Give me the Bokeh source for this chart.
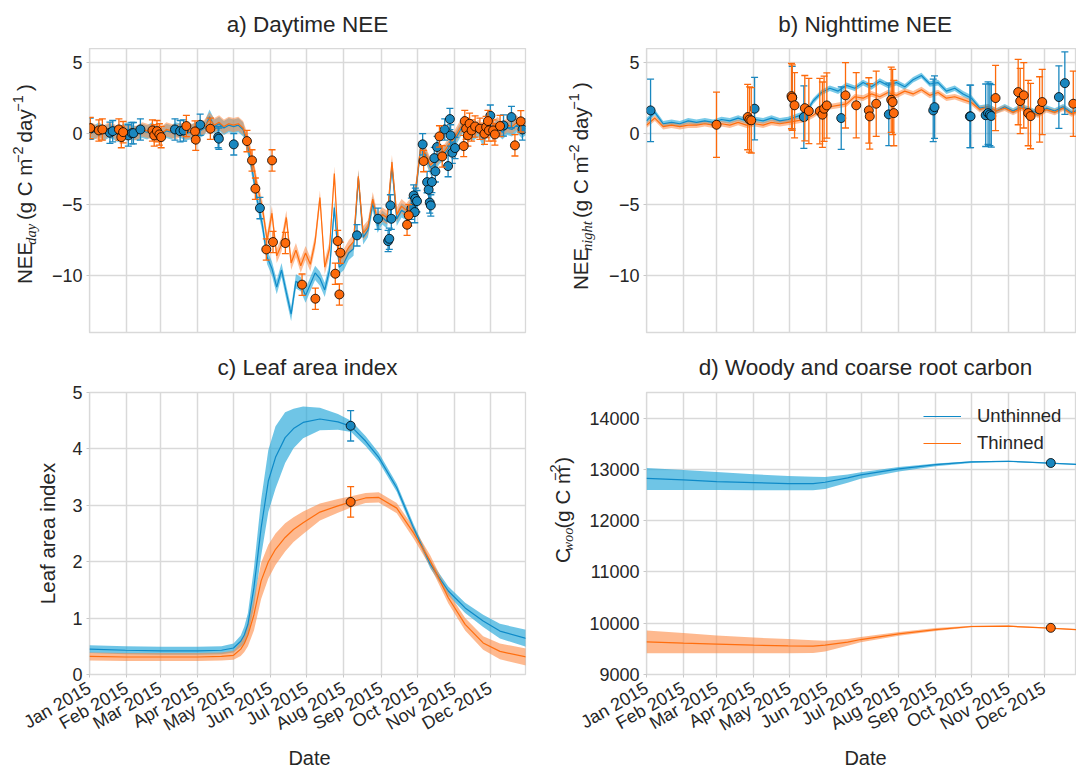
import math
import numpy as np
import pandas as pd
from bokeh.plotting import figure
from bokeh.layouts import column, row
from bokeh.models import (Range1d, FixedTicker, DatetimeTickFormatter,
                          Legend, LegendItem)
from bokeh.core.properties import value
from bokeh.embed import file_html
from bokeh.resources import INLINE

# ---------------------------------------------------------------- data
YEAR_START = "2015-01-01"
month_starts = ["2015-01-01", "2015-02-01", "2015-03-01", "2015-04-01",
                "2015-05-01", "2015-06-01", "2015-07-01", "2015-08-01",
                "2015-09-01", "2015-10-01", "2015-11-01", "2015-12-01"]

# a) daytime NEE, model (day of year, g C m-2 day-1)
nee_day_model_days = list(range(0, 365, 4))
nee_day_unthinned = [
    0.2, 0.1, 0.3, 0.0, 0.2, 0.1, -0.1, 0.2, 0.3, 0.1, 0.0, 0.2, 0.1, 0.3, 0.0,
    -0.1, 0.2, 0.1, 0.3, 0.2, 0.0, 0.1, 0.3, 0.2, 0.4,
    1.2, 0.5, 0.7, 0.4, 0.6, 0.5, 0.6, 0.3, -1.0,
    -2.8, -4.8, -6.4, -8.7, -9.5, -10.8, -9.6, -11.2, -12.7,
    -10.4, -10.6, -11.4, -10.6, -9.8, -10.2, -11.0, -9.6, -5.2, -9.4, -9.1,
    -8.4, -8.1, -3.1, -7.3, -6.8, -4.9, -6.5, -5.9, -6.2, -2.3, -6.0, -5.4, -5.6,
    -5.2, -4.0,
    -0.9, -1.5, -2.4, -2.1, -1.6, -1.4, -0.9, -0.5, 0.1, 0.7, 0.2, 0.0, 0.3,
    -0.4, 0.4, 0.2, 0.5, 0.1, 0.4, 0.3, 0.6, 0.2, 0.4]
nee_day_thinned = [
    0.3, 0.2, 0.0, 0.1, 0.3, 0.2, 0.0, 0.1, 0.2, 0.0, 0.1, 0.3, 0.2, 0.1, -0.1,
    0.0, 0.3, 0.2, 0.1, 0.3, 0.1, 0.2, 0.2, 0.3, 0.5,
    1.0, 0.6, 0.8, 0.5, 0.7, 0.6, 0.7, 0.4, -0.6,
    -2.0, -3.8, -5.2, -7.5, -5.6, -8.6, -7.8, -5.9, -9.1,
    -8.2, -9.3, -8.4, -9.2, -7.6, -4.5, -9.4, -8.1, -2.8, -8.9, -8.6,
    -8.0, -7.6, -3.0, -7.0, -6.6, -4.6, -6.1, -5.7, -5.9, -2.0, -5.7, -5.1, -5.4,
    -5.0, -3.8,
    -0.9, -1.4, -2.2, -1.9, -1.4, -1.2, -0.7, -0.3, 0.3, 0.8, 0.4, 0.2, 0.5,
    0.0, 0.6, 0.4, 0.7, 0.3, 0.6, 0.5, 0.8, 0.4, 0.6]
nee_day_model_unc = 0.5

# a) daytime NEE, observations
nee_day_obs_unthinned_days = [
    0.6, 17.0, 19.3, 32.3, 35.2, 36.6, 42.4, 71.2, 75.5, 78.4, 92.2, 107.2, 107.8,
    120.2, 142.0, 222.9, 240.4, 248.8, 249.8, 250.7, 251.5, 268.2, 270.1, 271.0,
    271.5, 272.9, 277.6, 281.3, 282.6, 283.5, 284.4, 285.3, 287.3, 288.2, 289.6,
    296.0, 298.8, 300.3, 300.9, 302.3, 304.6, 334.0, 345.0, 351.6, 360.8]
nee_day_obs_unthinned = [
    0.35, 0.07, 0.18, -0.12, 0.04, 0.04, 0.30, 0.30, 0.18, 0.23, 0.63, -0.24, -0.35,
    -0.75, -5.24, -7.16, -5.99, -7.56, -7.40, -5.05, -5.99, -5.28, -4.35, -5.52,
    -4.58, -4.75, -0.75, -3.41, -3.94, -4.85, -5.05, -3.40, -1.72, -2.65, -0.94,
    0.30, -2.28, 1.03, -0.12, -1.34, -1.01, 1.27, 0.58, 1.17, 0.30]
nee_day_obs_thinned_days = [
    0.6, 7.8, 10.7, 24.5, 26.5, 28.0, 52.4, 53.9, 56.2, 58.2, 59.7, 80.7, 87.9,
    88.5, 100.7, 131.2, 135.4, 138.2, 147.3, 152.1, 152.9, 163.2, 177.1, 188.2,
    204.8, 206.8, 208.2, 209.0, 264.6, 266.0, 278.4, 291.6, 293.9, 311.8, 312.7,
    313.8, 315.3, 316.7, 318.4, 321.3, 325.3, 329.1, 330.5, 332.0, 332.8, 336.3,
    337.8, 342.1, 354.5, 359.4]
nee_day_obs_thinned = [
    0.40, 0.23, 0.30, 0.30, -0.24, 0.11, 0.23, -0.12, 0.18, -0.05, -0.24, 0.54, 0.16,
    -0.42, 0.35, -0.52, -1.88, -3.87, -8.15, -1.88, -7.63, -7.70, -10.63, -11.62,
    -9.86, -7.56, -11.32, -8.38, -6.41, -5.75, -1.93, -0.19, -1.60, -0.87, 0.89,
    0.35, -0.12, 0.70, 0.23, 0.51, 0.35, 0.00, 0.47, 0.89, 0.23, 0.23,
    -0.05, 0.54, -0.82, 0.87]
nee_day_obs_err = 0.75

# b) nighttime NEE, model
nee_night_model_days = list(range(0, 365, 7))
nee_night_unthinned = [
    0.9, 1.5, 0.7, 0.8, 0.7, 0.9, 0.8, 0.9, 0.8, 1.0, 0.9, 1.1, 0.9, 1.0, 0.9, 1.1,
    0.9, 1.0, 1.2, 1.4, 2.3, 2.9, 3.2, 3.0, 3.4, 3.2, 3.6, 3.3, 3.7, 3.4, 3.6, 3.3,
    3.8, 4.1, 3.5, 3.6, 3.0, 3.2, 2.8, 2.5, 1.8, 1.9, 1.6, 1.9, 1.6, 1.9, 1.7, 1.4,
    1.8, 1.6, 1.9, 1.5, 1.7]
nee_night_thinned = [
    0.6, 1.1, 0.5, 0.6, 0.5, 0.6, 0.6, 0.7, 0.6, 0.7, 0.6, 0.8, 0.6, 0.7, 0.6, 0.8,
    0.7, 0.8, 0.9, 1.0, 1.3, 1.7, 1.9, 2.0, 2.1, 2.6, 2.5, 2.8, 2.6, 2.9, 2.7, 3.0,
    2.8, 3.1, 2.7, 2.9, 2.5, 2.6, 2.4, 2.2, 1.7, 1.9, 1.6, 1.8, 1.5, 1.8, 1.6, 1.3,
    1.7, 1.5, 1.8, 1.4, 1.6]
nee_night_model_unc = 0.2

# b) nighttime NEE, observations
nee_night_obs_unthinned_days = [3.4, 90.8, 122.4, 132.2, 163.6, 203.6, 240.9, 242.0,
                                271.7, 272.3, 285.0, 287.0, 288.5, 289.7, 346.5, 351.5]
nee_night_obs_unthinned = [1.64, 1.76, 2.54, 1.17, 1.10, 1.36, 1.64, 1.87,
                           1.22, 1.22, 1.30, 1.45, 1.35, 1.25, 2.58, 3.56]
nee_night_obs_thinned_days = [58.8, 85.0, 86.5, 88.0, 121.8, 122.4, 124.4, 133.0, 136.4,
                              145.6, 147.8, 149.2, 151.5, 167.2, 176.2, 186.8, 187.6,
                              193.0, 205.6, 206.8, 207.8, 293.3, 312.3, 314.0, 317.0,
                              320.7, 322.7, 330.3, 332.5, 358.6]
nee_night_obs_thinned = [0.63, 1.17, 1.00, 0.94, 2.65, 2.54, 2.00, 1.80, 1.60,
                         1.59, 1.34, 1.76, 1.99, 2.70, 2.00, 1.64, 1.22,
                         2.11, 2.39, 2.23, 1.45, 2.51, 2.93, 2.30, 2.70,
                         1.45, 1.24, 1.71, 2.23, 2.11]
nee_night_obs_err_unthinned = 2.2
nee_night_obs_err_thinned = 2.3

# c) leaf area index
lai_days = [0, 30, 60, 90, 110, 120, 126, 129, 132, 137, 143, 149, 155, 163, 170,
            178, 192, 207, 218, 230, 241, 256, 270, 284, 299, 313, 328, 342, 364]
lai_unthinned = [0.45, 0.43, 0.42, 0.42, 0.43, 0.47, 0.59, 0.70, 0.89, 1.54, 2.60,
                 3.43, 3.85, 4.20, 4.36, 4.47, 4.53, 4.48, 4.40, 4.14, 3.85, 3.31,
                 2.60, 1.95, 1.48, 1.18, 0.95, 0.77, 0.64]
lai_unthinned_unc = [0.07, 0.07, 0.07, 0.07, 0.07, 0.08, 0.10, 0.15, 0.20, 0.35, 0.50,
                     0.55, 0.55, 0.45, 0.35, 0.28, 0.20, 0.14, 0.10, 0.09, 0.08, 0.07,
                     0.07, 0.07, 0.08, 0.09, 0.11, 0.13, 0.15]
lai_thinned = [0.32, 0.31, 0.31, 0.31, 0.32, 0.34, 0.45, 0.55, 0.70, 1.06, 1.66,
               2.00, 2.22, 2.43, 2.57, 2.69, 2.88, 2.99, 3.06, 3.13, 3.14, 2.95,
               2.51, 2.01, 1.36, 0.89, 0.56, 0.41, 0.31]
lai_thinned_unc = [0.07, 0.07, 0.07, 0.07, 0.07, 0.08, 0.12, 0.15, 0.20, 0.28, 0.32,
                   0.30, 0.28, 0.25, 0.22, 0.20, 0.15, 0.12, 0.10, 0.09, 0.09, 0.09,
                   0.10, 0.10, 0.10, 0.11, 0.12, 0.14, 0.15]
lai_obs_day = [217.6]
lai_obs_unthinned = [4.41]
lai_obs_thinned = [3.06]
lai_obs_err = 0.27

# d) woody and coarse root carbon
cwoo_days = [0, 31, 59, 90, 119, 140, 150, 169, 180, 212, 243, 273, 304, 334, 361]
cwoo_unthinned = [12827, 12795, 12763, 12743, 12724, 12724, 12750, 12834, 12893,
                  13010, 13094, 13146, 13159, 13127, 13100]
cwoo_unthinned_hi = [13029, 12990, 12950, 12905, 12870, 12855, 12850, 12900, 12945,
                     13045, 13115, 13160, 13170, 13137, 13108]
cwoo_unthinned_lo = [12600, 12600, 12597, 12595, 12593, 12595, 12620, 12740, 12820,
                     12960, 13060, 13125, 13145, 13117, 13092]
cwoo_thinned = [9637, 9611, 9592, 9572, 9559, 9552, 9572, 9630, 9682, 9793, 9877,
                9936, 9942, 9910, 9877]
cwoo_thinned_hi = [9858, 9810, 9760, 9720, 9690, 9670, 9660, 9690, 9730, 9830, 9905,
                   9950, 9955, 9920, 9887]
cwoo_thinned_lo = [9415, 9415, 9415, 9415, 9415, 9420, 9450, 9560, 9630, 9755, 9850,
                   9920, 9930, 9900, 9867]
cwoo_obs_day = [339.7]
cwoo_obs_unthinned = [13125]
cwoo_obs_thinned = [9910]

series_labels = ["Unthinned", "Thinned"]
panel_titles = ["a) Daytime NEE", "b) Nighttime NEE", "c) Leaf area index",
                "d) Woody and coarse root carbon"]

# ---------------------------------------------------------------- style
FONT = "Liberation Sans"
SERIF = "Liberation Serif"
TEXT = "#262626"
GRID = "#d9d9d9"
BLUE = "#0e8ac8"
ORANGE = "#ff6e0e"
BLUE_FILL = "#22a6d9"
ORANGE_FILL = "#fd8a45"
BLUE_PT = "#1a87bf"
ORANGE_PT = "#fd6a0b"
BASE_FIX = 0.38   # text renderer places the baseline this many em lower

T0 = pd.Timestamp(YEAR_START)
T0_MS = T0.value / 1e6
DAY_MS = 86400000.0
MONTH_MS = [pd.Timestamp(m).value / 1e6 for m in month_starts]


def to_dt(days):
    return (T0 + pd.to_timedelta(np.asarray(days, dtype=float), unit="D")).values


def make_fig(width, height, borders, x_end_days, yr, yticks, bottom_labels):
    l, r, t, b = borders
    p = figure(width=width, height=height, x_axis_type="datetime", title=None,
               x_range=Range1d(T0_MS - 0.02 * DAY_MS, T0_MS + x_end_days * DAY_MS),
               y_range=Range1d(*yr), toolbar_location=None, output_backend="svg",
               min_border_left=l, min_border_right=r, min_border_top=t,
               min_border_bottom=b)
    p.background_fill_color = "white"
    p.border_fill_color = "white"
    p.outline_line_color = GRID
    p.outline_line_width = 1.3
    p.xgrid.ticker = FixedTicker(ticks=MONTH_MS)
    p.ygrid.ticker = FixedTicker(ticks=yticks)
    for g in (p.xgrid, p.ygrid):
        g.grid_line_color = GRID
        g.grid_line_width = 1.5
    for ax in p.axis:
        ax.axis_line_color = None
        ax.major_tick_line_color = "#c8c8c8"
        ax.major_tick_out = 3
        ax.major_tick_in = 0
        ax.minor_tick_line_color = None
        ax.major_label_text_font = FONT
        ax.major_label_text_font_size = "18px"
        ax.major_label_text_color = TEXT
        ax.major_label_standoff = 4
    p.xaxis.ticker = FixedTicker(ticks=MONTH_MS)
    fmt = "%b %Y"
    p.xaxis.formatter = DatetimeTickFormatter(
        microseconds=fmt, milliseconds=fmt, seconds=fmt, minsec=fmt, minutes=fmt,
        hourmin=fmt, hours=fmt, days=fmt, months=fmt, years=fmt)
    if bottom_labels:
        p.xaxis.major_label_orientation = math.pi / 6
        p.xaxis.major_label_standoff = 9
    else:
        p.xaxis.visible = False
    p.yaxis.ticker = FixedTicker(ticks=yticks)
    p.yaxis.major_label_overrides = {v: ("\u2212" + str(abs(v)) if v < 0 else str(v))
                                     for v in yticks}
    return p


def text_fig(width, height):
    p = figure(width=width, height=height, x_range=Range1d(0, width),
               y_range=Range1d(0, height), toolbar_location=None, title=None,
               output_backend="svg", min_border=0, x_axis_location=None,
               y_axis_location=None)
    p.xgrid.visible = False
    p.ygrid.visible = False
    p.outline_line_color = None
    p.background_fill_color = "white"
    p.border_fill_color = "white"
    return p


def put_text(p, x, y, text, size, align="left", font=FONT, style="normal"):
    """Horizontal text whose alphabetic baseline sits at local y (y up)."""
    p.text(x=[x], y=[y + BASE_FIX * size], text=[text], angle=0, text_align=align,
           text_baseline="alphabetic", text_font=value(font),
           text_font_size=value(f"{size}px"), text_font_style=value(style),
           text_color=TEXT)


def put_vtext(p, x, y, text, size, font=FONT, style="normal", align="left"):
    """Text rotated 90 deg CCW whose baseline sits at local x."""
    p.text(x=[x - BASE_FIX * size], y=[y], text=[text], angle=math.pi / 2,
           text_align=align, text_baseline="alphabetic", text_font=value(font),
           text_font_size=value(f"{size}px"), text_font_style=value(style),
           text_color=TEXT)


SANS_W = {' ': 278, '(': 333, ')': 333, 'g': 556, 'C': 722, 'm': 833, 'd': 556,
          'a': 556, 'y': 500, 'N': 722, 'E': 667, '\u2212': 584, '1': 556, '2': 556}
SERIF_I_W = {'d': 500, 'a': 500, 'y': 444, 'n': 500, 'i': 278, 'g': 500, 'h': 500,
             't': 278, 'w': 667, 'o': 500}
MAIN, SMALL = 20.5, 14.5


def ylabel_parts(p, x, y0, parts):
    """Vertical label built of pieces: normal, subscript, superscript, gap."""
    y = y0
    for text, kind in parts:
        if kind == "gap":
            y += SANS_W[' '] * MAIN / 1000.0
            continue
        if kind == "sub":
            size, font, style, dx, table = SMALL, SERIF, "italic", 4, SERIF_I_W
        elif kind == "sup":
            size, font, style, dx, table = SMALL, FONT, "normal", -9, SANS_W
        else:
            size, font, style, dx, table = MAIN, FONT, "normal", 0, SANS_W
        put_vtext(p, x + dx, y, text, size, font=font, style=style)
        y += sum(table.get(c, 556) for c in text) * size / 1000.0


def band(p, days, lo, hi, color, alpha):
    p.varea(x=to_dt(days), y1=lo, y2=hi, fill_color=color, fill_alpha=alpha)


def obs(p, days, vals, err, color):
    x = to_dt(days)
    v = np.asarray(vals, dtype=float)
    e = np.broadcast_to(np.asarray(err, dtype=float), v.shape)
    p.segment(x0=x, y0=v - e, x1=x, y1=v + e, line_color=color, line_width=1.3)
    p.scatter(x=x, y=v - e, marker="dash", size=7, line_color=color, line_width=1.3)
    p.scatter(x=x, y=v + e, marker="dash", size=7, line_color=color, line_width=1.3)
    p.scatter(x=x, y=v, size=9, fill_color=color, line_color="black", line_width=0.8)


NEE_UNITS = [("(g C m", "n"), ("\u22122", "sup"), ("gap", "gap"), ("day", "n"),
             ("\u22121", "sup"), ("gap", "gap"), (")", "n")]

# ---------------------------------------------------------------- row 1: titles
t_top = text_fig(1076, 48)
put_text(t_top, 307, 15.7, panel_titles[0], 22.5, align="center")
put_text(t_top, 864.7, 15.7, panel_titles[1], 22.5, align="center")

# ---------------------------------------------------------------- row 2
pa = make_fig(516, 306, (41, 39, 0, 22), 363.3, (-14, 6), [-10, -5, 0, 5], False)
ub = np.array(nee_day_unthinned); tb = np.array(nee_day_thinned)
band(pa, nee_day_model_days, ub - nee_day_model_unc, ub + nee_day_model_unc, BLUE_FILL, 0.6)
band(pa, nee_day_model_days, tb - nee_day_model_unc, tb + nee_day_model_unc, ORANGE_FILL, 0.55)
pa.line(to_dt(nee_day_model_days), nee_day_unthinned, line_color=BLUE, line_width=1.2)
pa.line(to_dt(nee_day_model_days), nee_day_thinned, line_color=ORANGE, line_width=1.2)
obs(pa, nee_day_obs_unthinned_days, nee_day_obs_unthinned, nee_day_obs_err, BLUE_PT)
obs(pa, nee_day_obs_thinned_days, nee_day_obs_thinned, nee_day_obs_err, ORANGE_PT)

la = text_fig(48, 306)
ylabel_parts(la, 31.7, 52.3, [("NEE", "n"), ("day", "sub"), ("gap", "gap")] + NEE_UNITS)

pb = make_fig(472, 306, (42, 0, 0, 22), 361.3, (-14, 6), [-10, -5, 0, 5], False)
un = np.array(nee_night_unthinned); tn = np.array(nee_night_thinned)
band(pb, nee_night_model_days, un - nee_night_model_unc, un + nee_night_model_unc, BLUE_FILL, 0.6)
band(pb, nee_night_model_days, tn - nee_night_model_unc, tn + nee_night_model_unc, ORANGE_FILL, 0.55)
pb.line(to_dt(nee_night_model_days), nee_night_unthinned, line_color=BLUE, line_width=1.2)
pb.line(to_dt(nee_night_model_days), nee_night_thinned, line_color=ORANGE, line_width=1.2)
obs(pb, nee_night_obs_unthinned_days, nee_night_obs_unthinned, nee_night_obs_err_unthinned, BLUE_PT)
obs(pb, nee_night_obs_thinned_days, nee_night_obs_thinned, nee_night_obs_err_thinned, ORANGE_PT)

lb = text_fig(40, 306)
ylabel_parts(lb, 24, 45.7, [("NEE", "n"), ("night", "sub"), ("gap", "gap")] + NEE_UNITS)

# ---------------------------------------------------------------- row 3: titles
t_mid = text_fig(1076, 27)
put_text(t_mid, 307, 5.3, panel_titles[2], 22.5, align="center")
put_text(t_mid, 865, 5.3, panel_titles[3], 22.5, align="center")

# ---------------------------------------------------------------- row 4
pc = make_fig(546, 365, (89, 21, 11, 72), 363.3, (0, 5), [0, 1, 2, 3, 4, 5], True)
lu = np.array(lai_unthinned); lt = np.array(lai_thinned)
band(pc, lai_days, lu - np.array(lai_unthinned_unc), lu + np.array(lai_unthinned_unc), BLUE_FILL, 0.65)
band(pc, lai_days, lt - np.array(lai_thinned_unc), lt + np.array(lai_thinned_unc), ORANGE_FILL, 0.6)
pc.line(to_dt(lai_days), lai_unthinned, line_color=BLUE, line_width=1.2)
pc.line(to_dt(lai_days), lai_thinned, line_color=ORANGE, line_width=1.2)
obs(pc, lai_obs_day, lai_obs_unthinned, lai_obs_err, BLUE_PT)
obs(pc, lai_obs_day, lai_obs_thinned, lai_obs_err, ORANGE_PT)
pc.yaxis.axis_label = "Leaf area index"
pc.yaxis.axis_label_text_font = FONT
pc.yaxis.axis_label_text_font_size = f"{MAIN}px"
pc.yaxis.axis_label_text_font_style = "normal"
pc.yaxis.axis_label_text_color = TEXT
pc.yaxis.axis_label_standoff = 10

ld = text_fig(31, 365)
ylabel_parts(ld, 23.5, 144.3, [("C", "n"), ("woo", "sub"), ("gap", "gap"),
                                ("(g C m", "n"), ("\u22122", "sup"), ("gap", "gap"),
                                (")", "n")])

pdd = make_fig(499, 365, (69, 0, 11, 72), 361.3, (9000, 14500),
               [9000, 10000, 11000, 12000, 13000, 14000], True)
band(pdd, cwoo_days, cwoo_unthinned_lo, cwoo_unthinned_hi, BLUE_FILL, 0.65)
band(pdd, cwoo_days, cwoo_thinned_lo, cwoo_thinned_hi, ORANGE_FILL, 0.6)
r_u = pdd.line(to_dt(cwoo_days), cwoo_unthinned, line_color=BLUE, line_width=1.2)
r_t = pdd.line(to_dt(cwoo_days), cwoo_thinned, line_color=ORANGE, line_width=1.2)
pdd.scatter(to_dt(cwoo_obs_day), cwoo_obs_unthinned, size=9, fill_color=BLUE_PT,
            line_color="black", line_width=0.8)
pdd.scatter(to_dt(cwoo_obs_day), cwoo_obs_thinned, size=9, fill_color=ORANGE_PT,
            line_color="black", line_width=0.8)
legend = Legend(items=[LegendItem(label=series_labels[0], renderers=[r_u]),
                       LegendItem(label=series_labels[1], renderers=[r_t])],
                location=(277, 220), orientation="vertical",
                background_fill_alpha=0, border_line_alpha=0, padding=0, margin=0,
                spacing=5, glyph_width=38, glyph_height=20, label_height=20,
                label_standoff=16, label_text_font=FONT, label_text_font_size="18.5px",
                label_text_color=TEXT)
pdd.add_layout(legend)

# ---------------------------------------------------------------- row 5: x labels
t_bot = text_fig(1076, 24)
put_text(t_bot, 309, 5, "Date", 20, align="center")
put_text(t_bot, 865, 5, "Date", 20, align="center")

layout = column(t_top, row(la, pa, lb, pb), t_mid, row(pc, ld, pdd), t_bot)
open("out.html", "w").write(file_html(layout, INLINE))
